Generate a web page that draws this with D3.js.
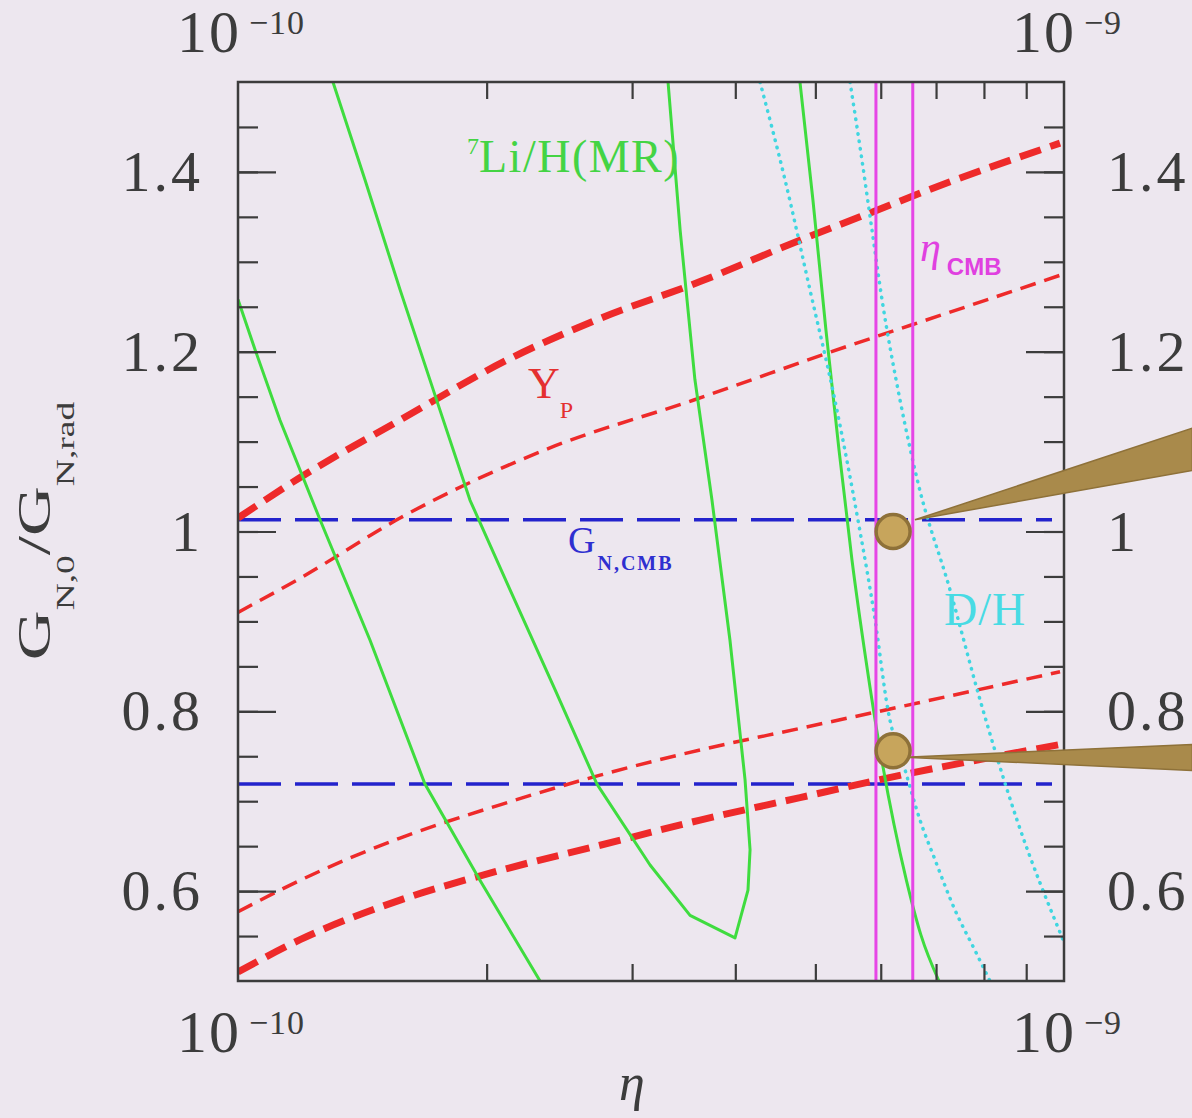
<!DOCTYPE html>
<html>
<head>
<meta charset="utf-8">
<script src="https://cdn.jsdelivr.net/npm/d3@7"></script>
<style>
  html, body { margin: 0; padding: 0; background: #ede7ef; }
  svg { display: block; }
</style>
</head>
<body>
<div id="chart"></div>
<script>
// eta values are in units of 1e-10
const ETA_UNIT = 1e-10;

// Y_p contours (red)
const ypThickHiEta = [1.0, 1.189, 1.571, 2.152, 2.744, 3.626, 4.790, 5.662, 7.278, 9.890];
const ypThickHiG   = [1.015, 1.060, 1.124, 1.194, 1.237, 1.278, 1.324, 1.350, 1.389, 1.432];
const ypThinHiEta  = [1.0, 1.189, 1.571, 2.386, 3.556, 5.507, 7.278, 9.890];
const ypThinHiG    = [0.910, 0.948, 1.015, 1.093, 1.146, 1.207, 1.244, 1.285];
const ypThinLoEta  = [1.0, 1.189, 1.571, 2.076, 2.744, 3.626, 4.790, 6.332, 9.890];
const ypThinLoG    = [0.577, 0.612, 0.659, 0.696, 0.729, 0.757, 0.781, 0.805, 0.844];
const ypThickLoEta = [1.0, 1.189, 1.571, 2.076, 2.744, 3.626, 4.790, 5.988, 9.890];
const ypThickLoG   = [0.510, 0.546, 0.590, 0.623, 0.651, 0.679, 0.704, 0.724, 0.763];

// 7Li/H (MR) contours (green)
const liAEta = [1.0, 1.049, 1.124, 1.257, 1.445, 1.684, 1.963, 2.321];
const liAG   = [1.258, 1.202, 1.124, 1.013, 0.879, 0.719, 0.612, 0.500];
const liBEta = [1.303, 1.425, 1.571, 1.756, 1.909, 2.135, 2.420, 2.720, 3.154, 3.526, 3.997,
                4.144, 4.168, 4.110, 3.941, 3.748, 3.574, 3.430, 3.316];
const liBG   = [1.500, 1.391, 1.269, 1.135, 1.035, 0.935, 0.824, 0.719, 0.629, 0.573, 0.548,
                0.601, 0.646, 0.724, 0.879, 1.035, 1.169, 1.335, 1.500];
const liCEta = [4.790, 4.966, 5.150, 5.342, 5.538, 5.757, 5.988, 6.226, 6.445, 6.712, 7.057];
const liCG   = [1.500, 1.369, 1.224, 1.090, 0.968, 0.857, 0.757, 0.674, 0.612, 0.551, 0.500];

// D/H contours (cyan)
const dhAEta = [4.285, 4.595, 4.925, 5.280, 5.630, 5.905, 6.123, 6.420, 6.694, 6.979, 7.379, 7.803, 8.135];
const dhAG   = [1.500, 1.391, 1.269, 1.146, 1.013, 0.902, 0.801, 0.735, 0.679, 0.635, 0.579, 0.534, 0.500];
const dhBEta = [5.507, 5.694, 5.856, 6.021, 6.332, 6.657, 7.278, 7.912, 8.773, 9.972];
const dhBG   = [1.500, 1.413, 1.335, 1.258, 1.146, 1.054, 0.935, 0.813, 0.679, 0.546];

// horizontal G_N,CMB band, vertical eta_CMB band
const gnCmb  = [1.013, 0.719];
const etaCmb = [5.92, 6.56];

// highlighted points and their pointers
const markEta = [6.21, 6.21];
const markG   = [1.0, 0.756];
const pointerTip = [[6.60, 1.013], [6.42, 0.749]];
const pointerEnd = [[14.3, 1.115, 1.068], [14.3, 0.763, 0.734]];

const yMajor = [0.6, 0.8, 1.0, 1.2, 1.4];
const yMinor = d3.range(11, 30).map(i => i * 0.05);
const xMinor = [2, 3, 4, 5, 6, 7, 8, 9].map(v => v * ETA_UNIT);
const xDecades = [{v: 1e-10, exp: '\u221210'}, {v: 1e-9, exp: '\u22129'}];

const W = 1192, H = 1118;
const plotL = 238, plotR = 1064, plotT = 82, plotB = 981;
const serif = '"Liberation Serif", "Times New Roman", serif';
const ink = '#3c3c3c';

const x = d3.scaleLog().domain([1e-10, 1e-9]).range([plotL, plotR]);
const y = d3.scaleLinear().domain([0.5, 1.5]).range([plotB, plotT]);

const svg = d3.select('#chart').append('svg')
    .attr('width', W).attr('height', H)
    .style('background', '#ede7ef');

svg.append('clipPath').attr('id', 'plot')
  .append('rect')
    .attr('x', plotL).attr('y', plotT)
    .attr('width', plotR - plotL).attr('height', plotB - plotT);

const pts = (etas, gs) => d3.zip(etas, gs);
const lineSmooth = d3.line().x(d => x(d[0] * ETA_UNIT)).y(d => y(d[1])).curve(d3.curveMonotoneX);
const lineStraight = d3.line().x(d => x(d[0] * ETA_UNIT)).y(d => y(d[1]));

const g = svg.append('g').attr('clip-path', 'url(#plot)');

// blue long dashed
gnCmb.forEach(v => {
    g.append('line')
        .attr('x1', x(1e-10)).attr('x2', x(1e-9) - 12)
        .attr('y1', y(v)).attr('y2', y(v))
        .attr('stroke', '#2323cc').attr('stroke-width', 3.5)
        .attr('stroke-dasharray', '43,14');
});

// red Y_p
const reds = [
    {e: ypThickHiEta, v: ypThickHiG, w: 7, dash: '22,10'},
    {e: ypThinHiEta, v: ypThinHiG, w: 3.5, dash: '16,9'},
    {e: ypThinLoEta, v: ypThinLoG, w: 3.5, dash: '16,9'},
    {e: ypThickLoEta, v: ypThickLoG, w: 7, dash: '22,10'}
];
reds.forEach(r => {
    g.append('path')
        .attr('d', lineSmooth(pts(r.e, r.v)))
        .attr('fill', 'none')
        .attr('stroke', '#ee2a2a')
        .attr('stroke-width', r.w)
        .attr('stroke-dasharray', r.dash);
});

// green Li
g.append('path')
    .attr('d', lineStraight(pts(liAEta, liAG)))
    .attr('fill', 'none').attr('stroke', '#3fdc3f').attr('stroke-width', 3);
g.append('path')
    .attr('d', lineStraight(pts(liBEta, liBG)))
    .attr('fill', 'none').attr('stroke', '#3fdc3f').attr('stroke-width', 3)
    .attr('stroke-linejoin', 'round');
g.append('path')
    .attr('d', lineSmooth(pts(liCEta, liCG)))
    .attr('fill', 'none').attr('stroke', '#3fdc3f').attr('stroke-width', 3);

// cyan D/H
[[dhAEta, dhAG], [dhBEta, dhBG]].forEach(([e, v]) => {
    g.append('path')
        .attr('d', lineSmooth(pts(e, v)))
        .attr('fill', 'none')
        .attr('stroke', '#40d6e0')
        .attr('stroke-width', 3.5)
        .attr('stroke-linecap', 'round')
        .attr('stroke-dasharray', '0.5,7');
});

// magenta eta_CMB
etaCmb.forEach(v => {
    g.append('line')
        .attr('x1', x(v * ETA_UNIT)).attr('x2', x(v * ETA_UNIT))
        .attr('y1', plotT).attr('y2', plotB)
        .attr('stroke', '#e646e6').attr('stroke-width', 3);
});

// axes
const styleAxis = sel => {
    sel.select('.domain').remove();
    sel.selectAll('.tick line').attr('stroke', ink).attr('stroke-width', 2.2);
    sel.selectAll('.tick text')
        .attr('fill', ink)
        .style('font-family', serif)
        .style('font-size', '58px')
        .style('letter-spacing', '3px');
};

svg.append('g').attr('transform', `translate(${plotL},0)`)
    .call(d3.axisLeft(y).tickValues(yMinor).tickSize(-20).tickFormat(''))
    .call(styleAxis);
svg.append('g').attr('transform', `translate(${plotL},0)`)
    .call(d3.axisLeft(y).tickValues(yMajor).tickSize(-38).tickPadding(35).tickFormat(d3.format('~g')))
    .call(styleAxis);
svg.append('g').attr('transform', `translate(${plotR},0)`)
    .call(d3.axisRight(y).tickValues(yMinor).tickSize(-20).tickFormat(''))
    .call(styleAxis);
svg.append('g').attr('transform', `translate(${plotR},0)`)
    .call(d3.axisRight(y).tickValues(yMajor).tickSize(-38).tickPadding(43).tickFormat(d3.format('~g')))
    .call(styleAxis);
svg.append('g').attr('transform', `translate(0,${plotB})`)
    .call(d3.axisBottom(x).tickValues(xMinor).tickSize(-17).tickFormat(''))
    .call(styleAxis);
svg.append('g').attr('transform', `translate(0,${plotT})`)
    .call(d3.axisTop(x).tickValues(xMinor).tickSize(-17).tickFormat(''))
    .call(styleAxis);

svg.append('rect')
    .attr('x', plotL).attr('y', plotT)
    .attr('width', plotR - plotL).attr('height', plotB - plotT)
    .attr('fill', 'none').attr('stroke', ink).attr('stroke-width', 2.5);

// decade labels top and bottom
[52, 1052].forEach(base => {
    xDecades.forEach(d => {
        const t = svg.append('text')
            .attr('x', x(d.v) + 3).attr('y', base)
            .attr('text-anchor', 'middle')
            .attr('fill', ink)
            .style('font-family', serif)
            .style('font-size', '60px');
        t.append('tspan').style('letter-spacing', '2px').text('10');
        t.append('tspan').attr('dx', 8).attr('dy', -18)
            .style('font-size', '34px').style('letter-spacing', '1px').text(d.exp);
    });
});

// axis titles
svg.append('text')
    .attr('x', 632).attr('y', 1100)
    .attr('text-anchor', 'middle')
    .attr('fill', ink)
    .style('font-family', serif)
    .style('font-style', 'italic')
    .style('font-size', '52px')
    .text('\u03b7');

const yt = svg.append('text')
    .attr('transform', 'translate(50,531) rotate(-90) scale(1.5,1)')
    .attr('text-anchor', 'middle')
    .attr('fill', ink)
    .style('font-family', serif)
    .style('font-size', '46px');
yt.append('tspan').text('G');
yt.append('tspan').attr('dy', 24).style('font-size', '25px').text('N,0');
yt.append('tspan').attr('dy', -24).text('/G');
yt.append('tspan').attr('dy', 24).style('font-size', '25px').text('N,rad');

// curve labels
const li = svg.append('text')
    .attr('x', 467).attr('y', 172)
    .attr('fill', '#44d444')
    .style('font-family', serif)
    .style('font-size', '46px');
li.append('tspan').attr('dy', -18).style('font-size', '24px').text('7');
li.append('tspan').attr('dy', 18).style('letter-spacing', '1.5px').text('Li/H(MR)');

const yp = svg.append('text')
    .attr('x', 528).attr('y', 398)
    .attr('fill', '#e43030')
    .style('font-family', serif)
    .style('font-size', '44px');
yp.append('tspan').text('Y');
yp.append('tspan').attr('dy', 20).style('font-size', '24px').text('P');

const gl = svg.append('text')
    .attr('x', 568).attr('y', 553)
    .attr('fill', '#2f2fd0')
    .style('font-family', serif)
    .style('font-size', '38px');
gl.append('tspan').text('G');
gl.append('tspan').attr('dy', 17).attr('dx', 2)
    .style('font-size', '20px').style('font-weight', 'bold')
    .style('letter-spacing', '2px').text('N,CMB');

const ec = svg.append('text')
    .attr('x', 920).attr('y', 261)
    .attr('fill', '#e040e0')
    .style('font-family', serif)
    .style('font-size', '42px');
ec.append('tspan').style('font-style', 'italic').text('\u03b7');
ec.append('tspan').attr('dy', 14).attr('dx', 6)
    .style('font-family', '"Liberation Sans", Arial, sans-serif')
    .style('font-size', '24px').style('font-weight', 'bold').text('CMB');

svg.append('text')
    .attr('x', 944).attr('y', 625)
    .attr('fill', '#48dbe4')
    .style('font-family', serif)
    .style('font-size', '46px')
    .style('letter-spacing', '1px')
    .text('D/H');

// pointers and marked points
pointerTip.forEach((tip, i) => {
    const end = pointerEnd[i];
    const poly = [[x(tip[0] * ETA_UNIT), y(tip[1])],
                  [x(end[0] * ETA_UNIT), y(end[1])],
                  [x(end[0] * ETA_UNIT), y(end[2])]];
    svg.append('path')
        .attr('d', d3.line()(poly) + 'Z')
        .attr('fill', '#a98a4b')
        .attr('stroke', '#8e7139')
        .attr('stroke-width', 1.5);
});

markEta.forEach((e, i) => {
    svg.append('circle')
        .attr('cx', x(e * ETA_UNIT)).attr('cy', y(markG[i]))
        .attr('r', 17)
        .attr('fill', '#c7a55c')
        .attr('stroke', '#8e7139')
        .attr('stroke-width', 3.5);
});
</script>
</body>
</html>
